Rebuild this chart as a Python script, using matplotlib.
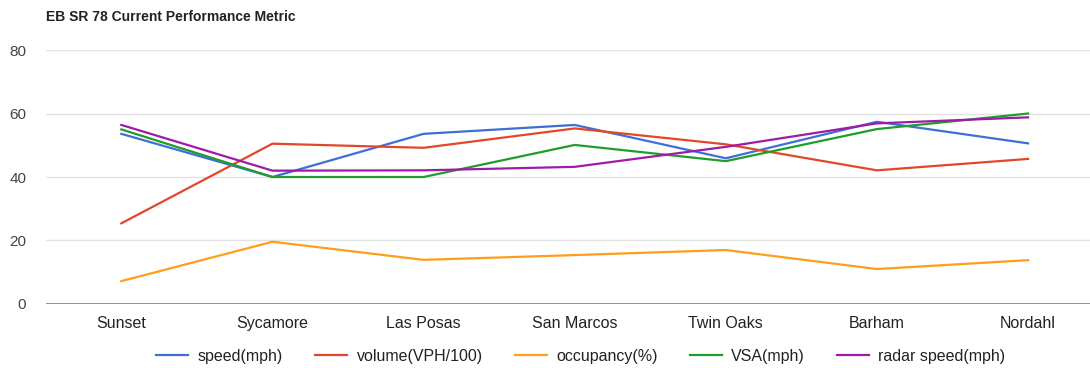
import matplotlib
matplotlib.use("Agg")
import matplotlib.pyplot as plt
import numpy as np

plt.rcParams['font.family'] = ['Liberation Sans', 'DejaVu Sans']

stations = ["Sunset", "Sycamore", "Las Posas", "San Marcos", "Twin Oaks", "Barham", "Nordahl"]
speed = [53.6, 40.0, 53.6, 56.4, 45.9, 57.4, 50.6]
volume = [25.4, 50.5, 49.2, 55.3, 50.3, 42.1, 45.7]
occupancy = [7.2, 19.6, 13.9, 15.4, 17.0, 11.0, 13.8]
vsa = [55.0, 40.0, 40.0, 50.1, 45.0, 55.1, 60.0]
radar_speed = [56.4, 42.0, 42.1, 43.2, 49.5, 56.9, 58.8]

names = ["speed(mph)", "volume(VPH/100)", "occupancy(%)", "VSA(mph)", "radar speed(mph)"]
colors = ["#3d6fd6", "#e2472a", "#ff9e1b", "#1f9d2a", "#9e1aa8"]
series = [speed, volume, occupancy, vsa, radar_speed]

fig = plt.figure(figsize=(10.9, 3.68), dpi=100)
ax = fig.add_axes([0.042, 0.174, 0.958, 0.690])

x = np.arange(len(stations))
for vals, name, c in zip(series, names, colors):
    ax.plot(x, vals, color=c, lw=1.6, label=name)

ax.set_xlim(-0.5, 6.41)
ax.set_ylim(0, 80)
ax.set_yticks([0, 20, 40, 60, 80])
ax.grid(axis='y', color='#e2e2e2', lw=1)
ax.axhline(0, color='#8a8a8a', lw=1.3)
ax.set_axisbelow(True)
for s in ax.spines.values():
    s.set_visible(False)
ax.set_xticks(x)
ax.set_xticklabels(stations, fontsize=11.5, color='#222222')
ax.tick_params(axis='x', length=0, pad=9)
ax.tick_params(axis='y', length=0, pad=14, labelsize=11, labelcolor='#444444')

fig.text(0.042, 0.955, "EB SR 78 Current Performance Metric", fontsize=10,
         fontweight='bold', color='#222222', va='center', ha='left')

fig.legend(loc='center', bbox_to_anchor=(0.533, 0.032), ncol=5, frameon=False,
           fontsize=11.5, handlelength=2.0, columnspacing=2.0, handletextpad=0.6,
           labelcolor='#222222')

fig.savefig("out.png", dpi=100)
